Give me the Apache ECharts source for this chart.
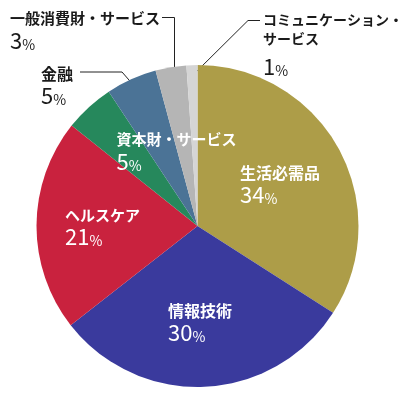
<!DOCTYPE html>
<html>
<head>
<meta charset="utf-8">
<script src="https://cdn.jsdelivr.net/npm/echarts@6/dist/echarts.min.js"></script>
<style>
html,body{margin:0;padding:0;background:#fff;}
#c{width:400px;height:396px;}
</style>
</head>
<body>
<div id="c"></div>
<script>
// ---- data ----
const categories = ['生活必需品', '情報技術', 'ヘルスケア', '資本財・サービス', '金融', '一般消費財・サービス', 'コミュニケーション・サービス'];
const shares = [34.1, 30.4, 21.3, 5.0, 5.1, 3.1, 1.1];
const percentLabels = [34, 30, 21, 5, 5, 3, 1];
const labelNames = ['生活必需品', '情報技術', 'ヘルスケア', '資本財・サービス', '金融', '一般消費財・サービス', 'コミュニケーション・\nサービス'];

// ---- styling / layout ----
const colors = ['#AD9D48', '#3A3A9D', '#C9223E', '#26885C', '#4B7396', '#B5B5B5', '#D5D5D5'];
const inside = [true, true, true, true, false, false, false];
const nameSizes = [16, 16, 15, 15, 16, 15, 14];
const labelLayouts = [
  {x: 240, y: 161.5},
  {x: 168, y: 300},
  {x: 65, y: 204},
  {x: 116.5, y: 128.5},
  {x: 41, y: 62.5, line: [[136, 88], [122, 72], [80, 72]]},
  {x: 10, y: 7.5, line: [[174.5, 88], [174.5, 17.5], [162, 17.5]]},
  {x: 263, y: 10.5, line: [[193, 75], [248, 20.5], [260, 20.5]]}
];

const chart = echarts.init(document.getElementById('c'), null, {renderer: 'canvas'});

const FONT = '"Noto Sans CJK JP", "Noto Sans", sans-serif';

const data = categories.map(function (name, i) {
  const color = inside[i] ? '#ffffff' : '#1a1a1a';
  const twoLine = labelNames[i].indexOf('\n') >= 0;
  return {
    name: name,
    value: shares[i],
    itemStyle: {color: colors[i]},
    label: {
      position: inside[i] ? 'inside' : 'outside',
      formatter: function () {
        const parts = labelNames[i].split('\n').map(function (t) { return '{n|' + t + '}'; });
        let s = parts.join('\n');
        if (twoLine) s += '\n{g| }';
        s += '\n{p|' + percentLabels[i] + '}{s|%}';
        return s;
      },
      rich: {
        n: {fontFamily: FONT, fontSize: nameSizes[i], fontWeight: 'bold', color: color, lineHeight: twoLine ? 19 : 22},
        g: {fontSize: 1, lineHeight: 7},
        p: {fontFamily: FONT, fontSize: 22, fontWeight: 'normal', color: color, lineHeight: 22},
        s: {fontFamily: FONT, fontSize: 14, fontWeight: 'normal', color: color, lineHeight: 14, verticalAlign: 'bottom'}
      }
    },
    labelLine: {show: !inside[i], smooth: false, lineStyle: {color: '#222', width: 1}}
  };
});

chart.setOption({
  animation: false,
  series: [{
    type: 'pie',
    center: [197.5, 226],
    radius: [0, 161],
    startAngle: 90,
    clockwise: true,
    avoidLabelOverlap: false,
    label: {show: true},
    labelLine: {show: true},
    labelLayout: function (p) {
      const L = labelLayouts[p.dataIndex];
      const r = {x: L.x, y: L.y, align: 'left', verticalAlign: 'top'};
      if (L.line) r.labelLinePoints = L.line;
      return r;
    },
    emphasis: {disabled: true},
    data: data
  }]
});
</script>
</body>
</html>
